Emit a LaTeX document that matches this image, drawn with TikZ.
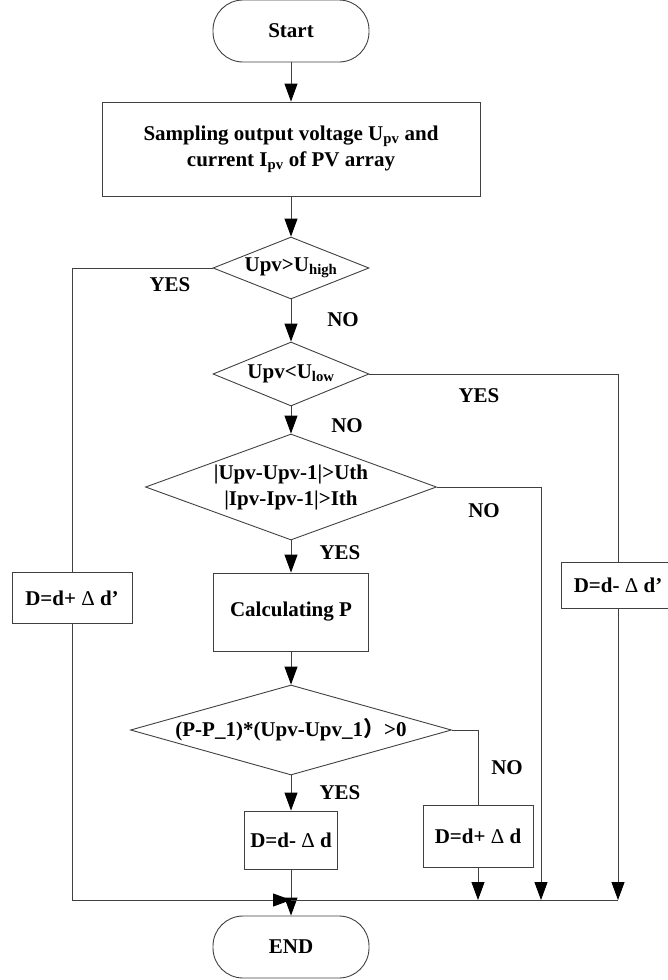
\documentclass[tikz,border=0pt]{standalone}
\usepackage{fontspec}
\setmainfont{Liberation Serif}
\newfontfamily\cjk{Noto Sans CJK SC}
\usetikzlibrary{shapes.geometric,arrows.meta}

\begin{document}
\begin{tikzpicture}[x=1pt, y=-1pt,
		every node/.style={font=\fontsize{21}{26}\selectfont\bfseries},
		line/.style={draw=black!75, line width=0.9pt},
		term/.style={line, rectangle, rounded corners=30pt, minimum width=156pt, minimum height=62pt},
		proc/.style={line, rectangle, inner sep=2pt},
		decide/.style={line, diamond, inner sep=0pt},
		>={Triangle[length=18pt,width=13pt,color=black]}]
	\useasboundingbox (0,0) rectangle (667,980);
	\node[term] (start)at(291, 31) {Start};
	\node[proc, minimum width=378pt, minimum height=94pt, align=center] (sample)at(291, 149) {Sampling output voltage U\textsubscript{pv} and\\current I\textsubscript{pv} of PV array};
	\node[decide, minimum width=156pt, minimum height=62pt, aspect=2.5] (high)at(291, 268) {Upv>U\textsubscript{high}};
	\node[decide, minimum width=156pt, minimum height=64pt, aspect=2.5] (low)at(291, 374) {Upv<U\textsubscript{low}};
	\node[decide, minimum width=291pt, minimum height=106pt, aspect=2.75, align=center] (diff)at(291, 487) {|Upv-Upv-1|>Uth\\|Ipv-Ipv-1|>Ith};
	\node[proc, minimum width=155pt, minimum height=78pt] (calc)at(291, 612) {Calculating P};
	\node[decide, minimum width=321pt, minimum height=90pt, aspect=3.55] (sign)at(291, 730) {(P-P\_1)*(Upv-Upv\_1{\cjk ）}>0};
	\node[proc, minimum width=93pt, minimum height=58pt] (dec)at(291, 840) {D=d- {\mdseries Δ} d};
	\node[proc, minimum width=110pt, minimum height=62pt] (inc)at(478, 836) {D=d+ {\mdseries Δ} d};
	\node[proc, minimum width=120pt, minimum height=51pt] (incbig)at(72, 598) {D=d+ {\mdseries Δ} d’};
	\node[proc, minimum width=114pt, minimum height=46pt] (decbig)at(618, 585) {D=d- {\mdseries Δ} d’};
	\node[term] (end)at(291, 947) {END};
	\coordinate (join)at(291, 900);
	\coordinate (far)at(541, 900);
	% branch labels
	\node (yes1)at(170, 285) {YES};
	\node (no1)at(343, 320) {NO};
	\node (yes2)at(479, 396) {YES};
	\node (no2)at(347, 426) {NO};
	\node (no3)at(484, 511) {NO};
	\node (yes3)at(340, 553) {YES};
	\node (no4)at(507, 768) {NO};
	\node (yes4)at(340, 793) {YES};
	% main flow
	\draw[line, ->] (start) -- (sample);
	\draw[line, ->] (sample) -- (high);
	\draw[line, ->] (high) -- (low);
	\draw[line, ->] (low) -- (diff);
	\draw[line, ->] (diff) -- (calc);
	\draw[line, ->] (calc) -- (sign);
	\draw[line, ->] (sign) -- (dec);
	\draw[line, ->] (dec) -- (end);
	% side branches
	\draw[line] (high.west) -| (incbig.north);
	\draw[line, ->] (incbig.south) |- (join);
	\draw[line] (low.east) -| (decbig.north);
	\draw[line, ->] (decbig.south) -- (decbig.south |- join);
	\draw[line] (decbig.south |- join) -- (join);
	\draw[line, ->] (diff.east) -| (far);
	\draw[line] (sign.east) -| (inc.north);
	\draw[line, ->] (inc.south) -- (inc.south |- join);
\end{tikzpicture}
\end{document}
